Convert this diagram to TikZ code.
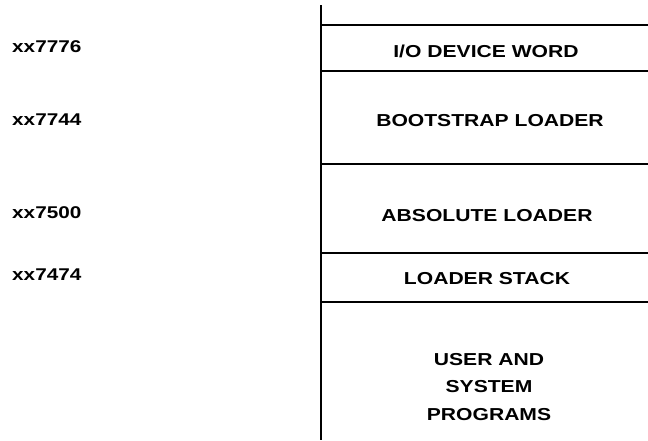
\documentclass[tikz,border=0pt]{standalone}
\usepackage{fontspec}
\setmainfont{Liberation Sans}
\newfontfamily\mapfont[FakeStretch=1.22]{Liberation Sans Bold}

\tikzset{
  addr/.style = {anchor = west, inner sep = 0pt, font = \mapfont\fontsize{17}{20}\selectfont},
  area/.style = {inner sep = 0pt, align = center, font = \mapfont\fontsize{17.3}{27.5}\selectfont},
  rule/.style = {line width = 1.6pt}
}

\begin{document}
\begin{tikzpicture}[x = 1pt, y = -1pt]
      \useasboundingbox (0, 0) rectangle (648, 440);
      \draw [rule] (321, 5) -- (321, 440);
      \foreach \y in {25, 71, 164, 253, 302}
        \draw [rule] (321, \y) -- (648, \y);
      \node [area] (iodev) at (486, 51) {I/O DEVICE WORD};
      \node [area] (boot) at (490, 121) {BOOTSTRAP LOADER};
      \node [area] (abs) at (487, 216) {ABSOLUTE LOADER};
      \node [area] (stack) at (487, 279) {LOADER STACK};
      \node [area] (user) at (489, 387) {USER AND\\SYSTEM\\PROGRAMS};
      \node [addr] (a7776) at (12, 47) {xx7776};
      \node [addr] (a7744) at (12, 120) {xx7744};
      \node [addr] (a7500) at (12, 213) {xx7500};
      \node [addr] (a7474) at (12, 275) {xx7474};
    \end{tikzpicture}
\end{document}
